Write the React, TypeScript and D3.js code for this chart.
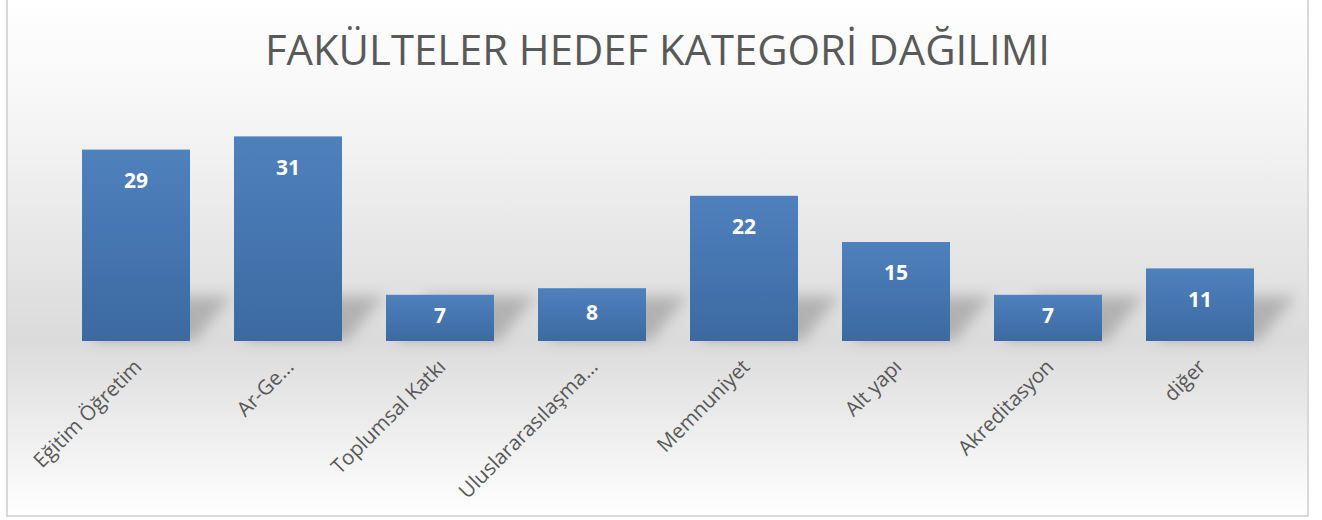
import React from "react";
import * as d3 from "d3";

const categories = [
  "Eğitim Öğretim",
  "Ar-Ge…",
  "Toplumsal Katkı",
  "Uluslararasılaşma…",
  "Memnuniyet",
  "Alt yapı",
  "Akreditasyon",
  "diğer",
];
const values = [29, 31, 7, 8, 22, 15, 7, 11];
const title = "FAKÜLTELER HEDEF KATEGORİ DAĞILIMI";

const W = 1322;
const H = 520;
const frame = { x0: 7, y0: -2, x1: 1308, y1: 516 };
const plot = { left: 60, right: 1276, top: 110, bottom: 341 };

export default function App() {
  const x = d3
    .scaleBand<string>()
    .domain(categories)
    .range([plot.left, plot.right])
    .paddingInner(44 / 152)
    .paddingOuter(22 / 152);
  const y = d3.scaleLinear().domain([0, 35]).range([plot.bottom, plot.top]);
  const font = "'Open Sans', 'DejaVu Sans', sans-serif";

  return (
    <svg
      width={W}
      height={H}
      style={{ position: "absolute", left: 0, top: 0, display: "block" }}
    >
      <defs>
        <linearGradient id="bg" x1="0" y1="0" x2="0" y2="1">
          <stop offset="0" stopColor="#ffffff" />
          <stop offset="0.2" stopColor="#f7f7f7" />
          <stop offset="0.66" stopColor="#dbdbdb" />
          <stop offset="1" stopColor="#ffffff" />
        </linearGradient>
        <linearGradient id="bar" x1="0" y1="0" x2="0" y2="1">
          <stop offset="0" stopColor="#4f81bd" />
          <stop offset="1" stopColor="#3c69a1" />
        </linearGradient>
        <filter id="blur" x="-50%" y="-50%" width="200%" height="200%">
          <feGaussianBlur stdDeviation="7" />
        </filter>
      </defs>
      <rect x={0} y={0} width={W} height={H} fill="#ffffff" />
      <rect
        x={frame.x0}
        y={frame.y0}
        width={frame.x1 - frame.x0}
        height={frame.y1 - frame.y0}
        fill="url(#bg)"
        stroke="#d9d9d9"
        strokeWidth={2}
      />
      <text
        x={(frame.x0 + frame.x1) / 2}
        y={65}
        textAnchor="middle"
        fontFamily={font}
        fontSize={41.8}
        fill="#595959"
      >
        {title}
      </text>
      <g filter="url(#blur)">
        {categories.map((c, i) => {
          const x0 = x(c)!;
          const x1 = x0 + x.bandwidth();
          const b = y(0);
          const h = Math.min(45, b - y(values[i]));
          const pts = [
            [x0 + 10, b],
            [x1 + 4, b],
            [x1 + 42, b - h],
            [x0 + 42, b - h],
          ];
          return (
            <polygon
              key={c}
              points={pts.map((p) => p.join(",")).join(" ")}
              fill="#000"
              opacity={0.2}
            />
          );
        })}
      </g>
      {categories.map((c, i) => {
        const x0 = x(c)!;
        const top = y(values[i]);
        const bot = y(0);
        const ly = Math.min(top + 31, (top + bot) / 2 - 2);
        return (
          <g key={c}>
            <rect
              x={x0}
              y={top}
              width={x.bandwidth()}
              height={bot - top}
              fill="url(#bar)"
            />
            <text
              x={x0 + x.bandwidth() / 2}
              y={ly}
              dy="0.35em"
              textAnchor="middle"
              fontFamily={font}
              fontWeight="bold"
              fontSize={21}
              fill="#ffffff"
            >
              {values[i]}
            </text>
          </g>
        );
      })}
      {categories.map((c) => {
        const cx = x(c)! + x.bandwidth() / 2 + 7;
        const cy = 368;
        return (
          <text
            key={c}
            transform={`translate(${cx},${cy}) rotate(-45)`}
            textAnchor="end"
            fontFamily={font}
            fontSize={20.5}
            fill="#595959"
          >
            {c}
          </text>
        );
      })}
    </svg>
  );
}
